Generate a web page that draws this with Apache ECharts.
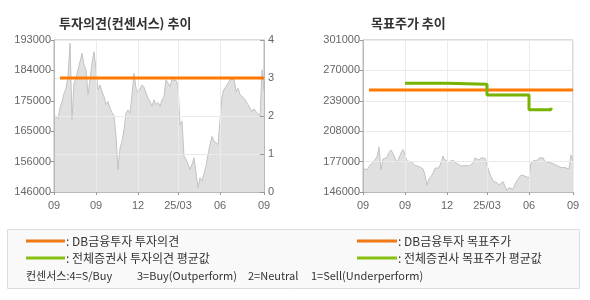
<!DOCTYPE html>
<html><head><meta charset="utf-8">
<script src="https://cdn.jsdelivr.net/npm/echarts@6/dist/echarts.min.js"></script>
<style>html,body{margin:0;padding:0;background:#fff}#c{width:590px;height:300px}</style>
</head><body><div id="c"></div>
<script>
const xLabels = ['09','09','12','25/03','06','09'];
const xLabelIdx = [0,21,42,62,83,105];
const price = [
169900,169700,168600,172000,174000,176400,178100,181700,192000,168400,
179700,181200,181200,186300,188900,185300,183800,176100,180700,185800,
189400,183800,177600,179100,177100,175500,173000,174000,172000,170600,
169600,163200,153000,159600,161700,165300,170400,171400,170400,176100,
182700,178100,176600,177100,179100,178400,176600,175000,174000,172500,
174500,173000,173700,172500,174500,175500,180700,179700,178600,180700,
180200,180500,179100,166800,167900,157100,156100,155500,153000,154500,
156600,152000,147300,150400,149400,148900,154000,157600,160700,163200,
161700,162200,160700,160200,175500,177800,178600,178100,180700,180200,
180900,177100,178100,176100,175500,175000,174500,173000,172500,170900,
171700,170900,171200,169400,183800,177100
];
const leftPriceTicks = ['146000','156000','165000','175000','184000','193000'];
const opinionTicks = ['0','1','2','3','4'];
const rightPriceTicks = ['146000','177000','208000','239000','270000','301000'];
const dbOpinion = [[3,3],[105,3]];
const dbTarget = [[3,250000],[105,250000]];
const avgTarget = [[21,257000],[42,256000],[62,245000],[83,230000],[94,232000]];
const titles = ['투자의견(컨센서스) 추이','목표주가 추이'];
const legendTexts = [': DB금융투자 투자의견', ': 전체증권사 투자의견 평균값', ': DB금융투자 목표주가', ': 전체증권사 목표주가 평균값'];
const consensusParts = ['컨센서스:4=S/Buy', '3=Buy(Outperform)', '2=Neutral', '1=Sell(Underperform)'];

const ORANGE = '#ff7800', GREEN = '#77b300';
const FONT = 'Liberation Sans, Arial, sans-serif';
const KFONT = '"Noto Sans CJK KR", sans-serif';
const cats = price.map((_, i) => String(i));

function xAxis(gi) {
  const showIdx = (i) => xLabelIdx.indexOf(i) >= 0;
  return {
    type: 'category', gridIndex: gi, data: cats, boundaryGap: false, z: 3,
    axisLine: {lineStyle: {color: '#b8b8b8'}},
    axisTick: {show: true, interval: showIdx, length: 3, lineStyle: {color: '#999'}},
    axisLabel: {interval: showIdx, color: '#666', fontSize: 11, fontFamily: FONT, margin: 8,
      formatter: (v, i) => xLabels[xLabelIdx.indexOf(Number(v))] || ''},
    splitLine: {show: true, interval: showIdx, lineStyle: {color: '#ebebeb'}}
  };
}
function priceAxis(gi, ticks, min, max, interval, split) {
  return {
    type: 'value', gridIndex: gi, min: min, max: max, interval: interval, position: 'left', z: 3,
    axisLine: {show: true, lineStyle: {color: '#b8b8b8'}},
    axisTick: {show: true, length: 3, lineStyle: {color: '#999'}},
    axisLabel: {color: '#666', fontSize: 11, fontFamily: FONT, margin: 3,
      formatter: (v) => ticks[Math.round((v - min) / interval)]},
    splitLine: {show: split, lineStyle: {color: '#ebebeb'}}
  };
}
const legendFont = '12px ' + KFONT;
const consFont = '11px ' + KFONT;
const consX = [26, 137, 248, 311];
const option = {
  animation: false,
  title: [
    {text: titles[0], left: 54, top: 12, textStyle: {fontSize: 13, fontWeight: 'bold', color: '#333', fontFamily: KFONT}},
    {text: titles[1], left: 366, top: 12, textStyle: {fontSize: 13, fontWeight: 'bold', color: '#333', fontFamily: KFONT}}
  ],
  grid: [
    {left: 54, top: 40, width: 210, height: 152, show: true, borderColor: '#b8b8b8', borderWidth: 1},
    {left: 363, top: 40, width: 210, height: 152, show: true, borderColor: '#b8b8b8', borderWidth: 1}
  ],
  xAxis: [xAxis(0), xAxis(1)],
  yAxis: [
    priceAxis(0, leftPriceTicks, 146000, 193000, 9400, false),
    {type: 'value', gridIndex: 0, min: 0, max: 4, interval: 1, position: 'right', z: 3,
     axisLine: {show: true, lineStyle: {color: '#b8b8b8'}},
     axisTick: {show: true, inside: true, length: 4, lineStyle: {color: '#999'}},
     axisLabel: {color: '#666', fontSize: 11, fontFamily: FONT, margin: 4,
       formatter: (v) => opinionTicks[v]},
     splitLine: {show: true, lineStyle: {color: '#ebebeb'}}},
    priceAxis(1, rightPriceTicks, 146000, 301000, 31000, true)
  ],
  series: [
    {type: 'line', xAxisIndex: 0, yAxisIndex: 0, data: price, symbol: 'none', z: 2,
     lineStyle: {color: '#c2c2c2', width: 1}, areaStyle: {color: '#e0e0e0', opacity: 1, origin: 'start'}},
    {type: 'line', xAxisIndex: 0, yAxisIndex: 1, data: dbOpinion, symbol: 'none', z: 5,
     lineStyle: {color: ORANGE, width: 3}},
    {type: 'line', xAxisIndex: 1, yAxisIndex: 2, data: price, symbol: 'none', z: 2,
     lineStyle: {color: '#c2c2c2', width: 1}, areaStyle: {color: '#e0e0e0', opacity: 1, origin: 'start'}},
    {type: 'line', xAxisIndex: 1, yAxisIndex: 2, data: dbTarget, symbol: 'none', z: 5,
     lineStyle: {color: ORANGE, width: 3}},
    {type: 'line', xAxisIndex: 1, yAxisIndex: 2, data: avgTarget, symbol: 'none', step: 'end', z: 6,
     lineStyle: {color: GREEN, width: 3}}
  ],
  graphic: [
    {type: 'rect', shape: {x: 7.5, y: 229.5, width: 572, height: 59}, style: {fill: '#f9f9f9', stroke: '#dcdcdc', lineWidth: 1}},
    {type: 'line', shape: {x1: 26, y1: 241, x2: 65, y2: 241}, style: {stroke: '#f07814', lineWidth: 3}},
    {type: 'line', shape: {x1: 26, y1: 258, x2: 65, y2: 258}, style: {stroke: '#88c010', lineWidth: 3}},
    {type: 'line', shape: {x1: 357, y1: 241, x2: 397, y2: 241}, style: {stroke: '#f07814', lineWidth: 3}},
    {type: 'line', shape: {x1: 357, y1: 258, x2: 397, y2: 258}, style: {stroke: '#88c010', lineWidth: 3}},
    {type: 'text', x: 66, y: 241.5, style: {text: legendTexts[0], fill: '#333', font: legendFont, verticalAlign: 'middle'}},
    {type: 'text', x: 66, y: 258.5, style: {text: legendTexts[1], fill: '#333', font: legendFont, verticalAlign: 'middle'}},
    {type: 'text', x: 398, y: 241.5, style: {text: legendTexts[2], fill: '#333', font: legendFont, verticalAlign: 'middle'}},
    {type: 'text', x: 398, y: 258.5, style: {text: legendTexts[3], fill: '#333', font: legendFont, verticalAlign: 'middle'}}
  ].concat(consensusParts.map((t, i) => (
    {type: 'text', x: consX[i], y: 275.5, style: {text: t, fill: '#333', font: consFont, verticalAlign: 'middle'}}
  )))
};
const chart = echarts.init(document.getElementById('c'), null, {renderer: 'canvas'});
chart.setOption(option);
</script></body></html>
